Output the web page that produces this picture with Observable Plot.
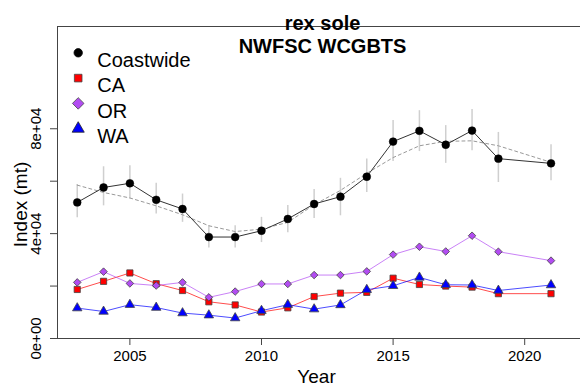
<!DOCTYPE html>
<html><head><meta charset="utf-8">
<script src="https://cdn.jsdelivr.net/npm/d3@7"></script>
<script src="https://cdn.jsdelivr.net/npm/@observablehq/plot@0.6"></script>
<style>body{margin:0;background:#fff}#chart{width:580px;height:392px}</style>
</head><body><div id="chart"></div>
<script>
const years      = [2003,2004,2005,2006,2007,2008,2009,2010,2011,2012,2013,2014,2015,2016,2017,2018,2019,2021];
const coastwide  = [51900,57600,59200,52900,49400,38700,38700,41100,45600,51300,54100,61700,75100,79200,73900,79300,68600,66800];
const coastLo    = [46100,50600,53200,47500,44300,34500,34500,36600,40300,45800,46800,55700,67500,71300,66800,71600,59500,60200];
const coastHi    = [58700,65500,65900,59200,55100,43000,43000,46200,50700,56800,61100,68500,83100,86900,81200,87300,78600,73900];
const coastTrend = [58500,55700,53600,50600,47200,43000,40800,41700,44300,51000,56500,63000,69000,73500,75200,75400,73500,67200];
const ca = [18700,21800,25000,20900,18300,14000,12800,10100,11700,16000,17300,17600,23000,20600,20000,19600,17100,17100];
const or = [21400,25500,21000,20200,21400,15700,17900,20800,20800,24200,24200,25600,32000,35000,33200,39200,33100,29700];
const wa = [11600,10300,12900,11800, 9700, 8900, 7800,10600,12900,11200,12800,18600,20100,23300,20500,20400,18300,20400];

const seriesNames  = ["Coastwide","CA","OR","WA"];
const xTicks       = [2005,2010,2015,2020];
const yTicks       = [0,20000,40000,60000,80000];
const yLabelTicks  = [0,40000,80000];
const yTickLabels  = ["0e+00","4e+04","8e+04"];
const titleLines   = ["rex sole","NWFSC WCGBTS"];
const xTitle = "Year", yTitle = "Index (mt)";

const xDomain = [2002.25, 2022.12];
const yDomain = [0, 119000];

const rows = years.map((y,i)=>({year:y, value:coastwide[i], lo:coastLo[i], hi:coastHi[i], trend:coastTrend[i]}));
const regional = [
  {name:"CA", values:ca, fill:"#ff0000", line:"#ff0000", symbol:"square", r:3.5},
  {name:"OR", values:or, fill:"#b24cf2", line:"#b24cf2", symbol:"diamond2", r:3.4},
  {name:"WA", values:wa, fill:"#0000ff", line:"#0000ff", symbol:"triangle", r:3.5}
];
const legendStyle = [
  {symbol:"circle", fill:"#000", stroke:"#000", r:4.2},
  {symbol:"square", fill:"#ff0000", stroke:"#444", r:4.3},
  {symbol:"diamond2", fill:"#b24cf2", stroke:"#444", r:5.2},
  {symbol:"triangle", fill:"#0000ff", stroke:"#222", r:4.5}
];

const marks = [];
// frame lines
marks.push(Plot.ruleX([xDomain[0]], {stroke:"#444"}));
marks.push(Plot.ruleY([yDomain[0]], {stroke:"#444"}));
marks.push(Plot.ruleY([yDomain[1]], {stroke:"#444"}));
// axes
marks.push(Plot.axisX(xTicks, {tickSize:7, tickPadding:5, fontSize:15, label:null, stroke:"#444", tickFormat:d=>String(d)}));
marks.push(Plot.axisY(yTicks, {tickSize:7, label:null, stroke:"#444", tickFormat:()=>""}));
marks.push(Plot.text(yLabelTicks, {y:d=>d, frameAnchor:"left", textAnchor:"middle", dx:-21, rotate:-90, fontSize:15, text:(d,i)=>yTickLabels[i]}));
// CIs, trend, coastwide
marks.push(Plot.ruleX(rows, {x:"year", y1:"lo", y2:"hi", stroke:"#cfcfcf", strokeWidth:1.5}));
marks.push(Plot.line(rows, {x:"year", y:"trend", stroke:"#999", strokeWidth:1, strokeDasharray:"3,3"}));
marks.push(Plot.line(rows, {x:"year", y:"value", stroke:"#333", strokeWidth:1}));
marks.push(Plot.dot(rows, {x:"year", y:"value", r:3.9, fill:"#000", stroke:"#000", strokeWidth:0.5}));
// regional
for (const s of regional) {
  const data = years.map((y,i)=>({year:y, value:s.values[i]}));
  marks.push(Plot.line(data, {x:"year", y:"value", stroke:s.line, strokeOpacity:0.7, strokeWidth:1}));
}
for (const s of regional) {
  const data = years.map((y,i)=>({year:y, value:s.values[i]}));
  marks.push(Plot.dot(data, {x:"year", y:"value", symbol:()=>s.symbol, r:s.r, fill:s.fill, stroke:"#444", strokeWidth:0.8}));
}
// legend
seriesNames.forEach((name,i)=>{
  const st = legendStyle[i];
  marks.push(Plot.dot([name], {frameAnchor:"top-left", dx:20.7, dy:26.3+25.3*i, symbol:()=>st.symbol, r:st.r, fill:st.fill, stroke:st.stroke, strokeWidth:0.8}));
  marks.push(Plot.text([name], {frameAnchor:"top-left", dx:39.7, dy:26.3+25.3*i, text:d=>d, textAnchor:"start", fontSize:20}));
});
// titles
marks.push(Plot.text([titleLines[0]], {frameAnchor:"top", dx:3.5, dy:-11, text:d=>d, fontSize:20, fontWeight:"bold"}));
marks.push(Plot.text([titleLines[1]], {frameAnchor:"top", dx:3.5, dy:12.6, text:d=>d, fontSize:20, fontWeight:"bold"}));
marks.push(Plot.text([xTitle], {frameAnchor:"bottom", dx:-2.5, dy:44.5, text:d=>d, fontSize:19}));
marks.push(Plot.text([yTitle], {frameAnchor:"left", textAnchor:"middle", dx:-37, dy:22, rotate:-90, text:d=>d, fontSize:19}));

const chart = Plot.plot({
  width:580, height:392,
  marginLeft:57, marginRight:0, marginTop:26, marginBottom:54,
  x:{domain:xDomain},
  y:{domain:yDomain},
  style:{fontFamily:"'Liberation Sans', Arial, sans-serif", fontSize:"15px", color:"#000", background:"#fff"},
  marks
});
document.getElementById("chart").appendChild(chart);
</script>
</body></html>
